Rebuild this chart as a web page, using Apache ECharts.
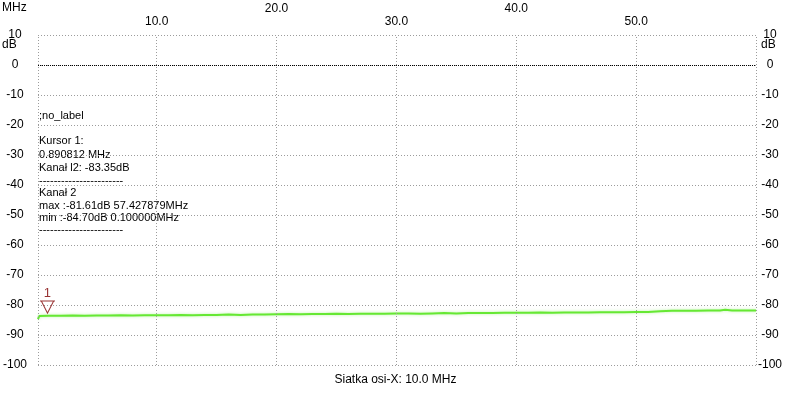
<!DOCTYPE html>
<html><head><meta charset="utf-8">
<script src="https://cdn.jsdelivr.net/npm/echarts@6/dist/echarts.min.js"></script>
<style>html,body{margin:0;padding:0;background:#fff}#c{width:791px;height:400px}</style>
</head><body><div id="c"></div>
<script>
var freqMHz = [0.1,0.2,1,2,3,4,5,6,7,8,9,10,11,12,13,14,15,16,17,18,19,20,21,22,23,24,25,26,27,28,29,30,31,32,33,34,35,36,37,38,39,40,41,42,43,44,45,46,47,48,49,50,51,52,53,54,55,56,57,57.43,58,59,60];
var levelDb = [-84.7,-83.7,-83.6,-83.6,-83.5,-83.6,-83.5,-83.5,-83.4,-83.5,-83.4,-83.4,-83.4,-83.3,-83.4,-83.3,-83.3,-83.2,-83.3,-83.2,-83.2,-83.1,-83.0,-83.1,-83.0,-83.0,-82.9,-83.0,-82.9,-82.9,-82.9,-82.8,-82.8,-82.9,-82.8,-82.7,-82.8,-82.7,-82.7,-82.7,-82.6,-82.6,-82.6,-82.5,-82.6,-82.5,-82.5,-82.5,-82.4,-82.4,-82.4,-82.3,-82.3,-82.1,-81.9,-81.9,-81.9,-81.8,-81.8,-81.61,-81.8,-81.8,-81.8];
var xTicksLow = [10,30,50];
var xTicksHigh = [20,40];
var xGrid = [0.1,10,20,30,40,50,60];
var cursor = [0.890812, -83.35];
var infoLines = [';no_label','Kursor 1:','0.890812 MHz','Kanał l2: -83.35dB','-----------------------','Kanał 2','max :-81.61dB 57.427879MHz','min :-84.70dB 0.100000MHz','-----------------------'];
var infoY = [117,142,156,169,182,194,207,219,231];

var FONT = 'Liberation Sans';
var data = freqMHz.map(function(f,i){return [f, levelDb[i]];});
var gridDash = {color:'#9c9c9c', type:[1,2], width:1};

var graphics = [
  {type:'text', left:2, top:2, style:{text:'MHz', font:'12px '+FONT, fill:'#000'}},
  {type:'text', left:2, top:39, style:{text:'dB', font:'12px '+FONT, fill:'#000'}},
  {type:'text', left:761, top:39, style:{text:'dB', font:'12px '+FONT, fill:'#000'}},
  {type:'text', left:'center', top:374, style:{text:'Siatka osi-X: 10.0 MHz', font:'12px '+FONT, fill:'#000'}}
];
infoLines.forEach(function(t,i){
  graphics.push({type:'text', left:39, top:infoY[i]-7, style:{text:t, font:'11px '+FONT, fill:'#000'}});
});

var chart = echarts.init(document.getElementById('c'), null, {renderer:'canvas'});
chart.setOption({
  animation:false,
  backgroundColor:'#fff',
  grid:{left:35, right:35, top:35, bottom:35},
  xAxis:[
    {type:'value', position:'top', min:0.1, max:60, axisLine:{show:false}, axisTick:{show:false}, splitLine:{show:false},
     axisLabel:{customValues:xTicksLow, margin:7, formatter:function(v){return v.toFixed(1);}, color:'#000', fontFamily:FONT, fontSize:12}},
    {type:'value', position:'top', min:0.1, max:60, axisLine:{show:false}, axisTick:{show:false}, splitLine:{show:false},
     axisLabel:{customValues:xTicksHigh, margin:20, formatter:function(v){return v.toFixed(1);}, color:'#000', fontFamily:FONT, fontSize:12}}
  ],
  yAxis:[
    {type:'value', position:'left', min:-100, max:10, interval:10, axisLine:{show:false}, axisTick:{show:false},
     splitLine:{show:true, lineStyle:gridDash},
     axisLabel:{align:'center', margin:23, color:'#000', fontFamily:FONT, fontSize:12}},
    {type:'value', position:'right', min:-100, max:10, interval:10, axisLine:{show:false}, axisTick:{show:false},
     splitLine:{show:false},
     axisLabel:{align:'center', margin:14, color:'#000', fontFamily:FONT, fontSize:12}}
  ],
  graphic:graphics,
  series:[
    {type:'line', data:[], z:1, silent:true,
     markLine:{symbol:'none', silent:true, label:{show:false}, animation:false,
       data: xGrid.map(function(v){return {xAxis:v, lineStyle:gridDash};}).concat([{yAxis:0, lineStyle:{color:'#000', type:[1,1], width:1}}])}},
    {type:'line', data:data, z:3, showSymbol:false, symbol:'none',
     lineStyle:{color:'#66e833', width:2, shadowColor:'rgba(120,235,80,0.5)', shadowBlur:3}},
    {type:'scatter', data:[cursor], z:4,
     symbol:'path://M0,0 L16,0 M1.5,0 L8,12 L14.5,0', symbolSize:[15,12], symbolOffset:[0,-8],
     itemStyle:{color:'rgba(0,0,0,0)', borderColor:'#800000', borderWidth:1},
     label:{show:true, position:'top', distance:1, formatter:'1', color:'#800000', fontFamily:FONT, fontSize:13}}
  ]
});
</script></body></html>
